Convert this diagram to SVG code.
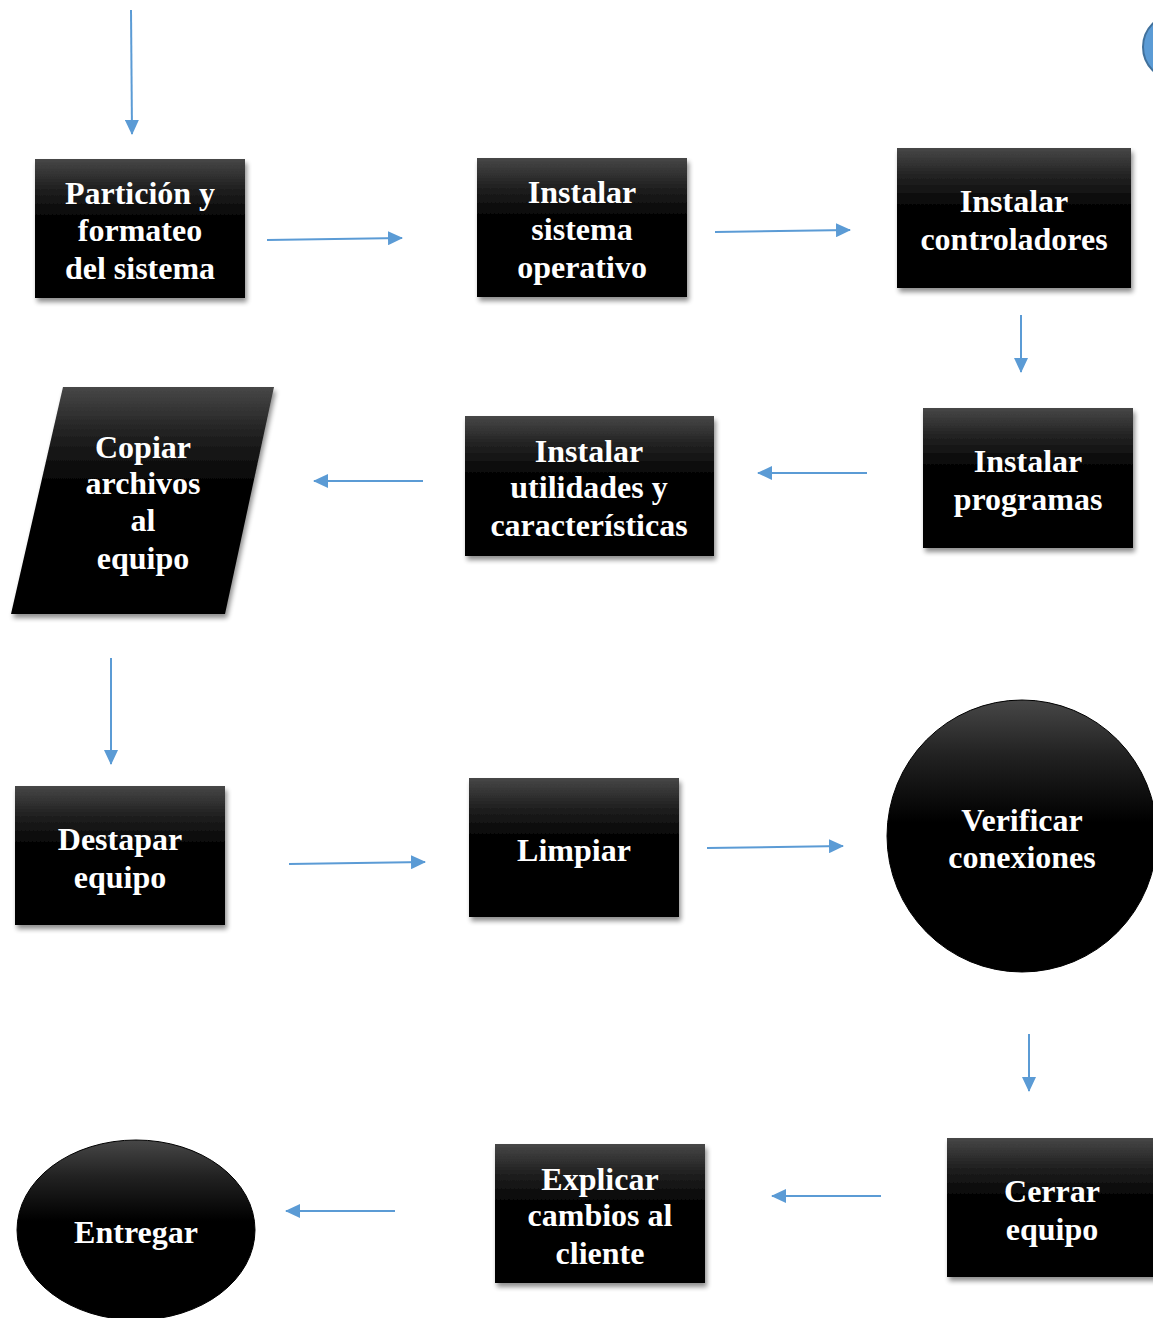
<svg xmlns="http://www.w3.org/2000/svg" width="1153" height="1318" viewBox="0 0 1153 1318">
<defs>
<linearGradient id="g" x1="0" y1="0" x2="0" y2="1">
<stop offset="0" stop-color="#474747"/>
<stop offset="0.2" stop-color="#222"/>
<stop offset="0.45" stop-color="#000"/>
<stop offset="1" stop-color="#000"/>
</linearGradient>
<filter id="sh" x="-10%" y="-10%" width="125%" height="125%">
<feGaussianBlur in="SourceAlpha" stdDeviation="2.5"/>
<feOffset dx="2" dy="4" result="b"/>
<feComponentTransfer><feFuncA type="linear" slope="0.45"/></feComponentTransfer>
<feMerge><feMergeNode/><feMergeNode in="SourceGraphic"/></feMerge>
</filter>
<marker id="a" markerWidth="15" markerHeight="14" refX="14" refY="7" orient="auto" markerUnits="userSpaceOnUse">
<path d="M0,0 L15,7 L0,14 z" fill="#5b9bd5"/>
</marker>
</defs>
<style>
.n{fill:url(#g);filter:url(#sh)}
.t{font-family:"Liberation Serif","Times New Roman",serif;font-weight:bold;font-size:32px;fill:#fff;text-anchor:middle}
.c{stroke:#5b9bd5;stroke-width:2;fill:none;marker-end:url(#a)}
</style>
<g id="start">
<circle cx="1176" cy="47" r="33" fill="#5b9bd5" stroke="#41719c" stroke-width="2"/>
</g>
<g id="n1"><rect class="n" x="35" y="159" width="210" height="139"/>
<text class="t" x="140" y="204">Partición y</text><text class="t" x="140" y="241">formateo</text><text class="t" x="140" y="279">del sistema</text></g>
<g id="n2"><rect class="n" x="477" y="158" width="210" height="139"/>
<text class="t" x="582" y="203">Instalar</text><text class="t" x="582" y="240">sistema</text><text class="t" x="582" y="278">operativo</text></g>
<g id="n3"><rect class="n" x="897" y="148" width="234" height="140"/>
<text class="t" x="1014" y="212">Instalar</text><text class="t" x="1014" y="250">controladores</text></g>
<g id="n4"><rect class="n" x="923" y="408" width="210" height="140"/>
<text class="t" x="1028" y="472">Instalar</text><text class="t" x="1028" y="510">programas</text></g>
<g id="n5"><rect class="n" x="465" y="416" width="249" height="140"/>
<text class="t" x="589" y="462">Instalar</text><text class="t" x="589" y="498">utilidades y</text><text class="t" x="589" y="536">características</text></g>
<g id="n6"><polygon class="n" points="63,387 274,387 225,614 11,614"/>
<text class="t" x="143" y="458">Copiar</text><text class="t" x="143" y="494">archivos</text><text class="t" x="143" y="531">al</text><text class="t" x="143" y="569">equipo</text></g>
<g id="n7"><rect class="n" x="15" y="786" width="210" height="139"/>
<text class="t" x="120" y="850">Destapar</text><text class="t" x="120" y="888">equipo</text></g>
<g id="n8"><rect class="n" x="469" y="778" width="210" height="139"/>
<text class="t" x="574" y="861">Limpiar</text></g>
<g id="n9"><ellipse cx="1022" cy="836" rx="135" ry="136" fill="url(#g)" stroke="#000" stroke-width="1"/>
<text class="t" x="1022" y="831">Verificar</text><text class="t" x="1022" y="868">conexiones</text></g>
<g id="n10"><rect class="n" x="947" y="1138" width="215" height="139"/>
<text class="t" x="1052" y="1202">Cerrar</text><text class="t" x="1052" y="1240">equipo</text></g>
<g id="n11"><rect class="n" x="495" y="1144" width="210" height="139"/>
<text class="t" x="600" y="1190">Explicar</text><text class="t" x="600" y="1226">cambios al</text><text class="t" x="600" y="1264">cliente</text></g>
<g id="n12"><ellipse cx="136" cy="1230" rx="119" ry="90" fill="url(#g)" stroke="#000" stroke-width="1"/>
<text class="t" x="136" y="1243">Entregar</text></g>
<g id="connectors">
<line class="c" x1="131" y1="10" x2="132" y2="134"/>
<line class="c" x1="267" y1="240" x2="402" y2="238"/>
<line class="c" x1="715" y1="232" x2="850" y2="230"/>
<line class="c" x1="1021" y1="315" x2="1021" y2="372"/>
<line class="c" x1="867" y1="473" x2="758" y2="473"/>
<line class="c" x1="423" y1="481" x2="314" y2="481"/>
<line class="c" x1="111" y1="658" x2="111" y2="764"/>
<line class="c" x1="289" y1="864" x2="425" y2="862"/>
<line class="c" x1="707" y1="848" x2="843" y2="846"/>
<line class="c" x1="1029" y1="1034" x2="1029" y2="1091"/>
<line class="c" x1="881" y1="1196" x2="772" y2="1196"/>
<line class="c" x1="395" y1="1211" x2="286" y2="1211"/>
</g>
</svg>
